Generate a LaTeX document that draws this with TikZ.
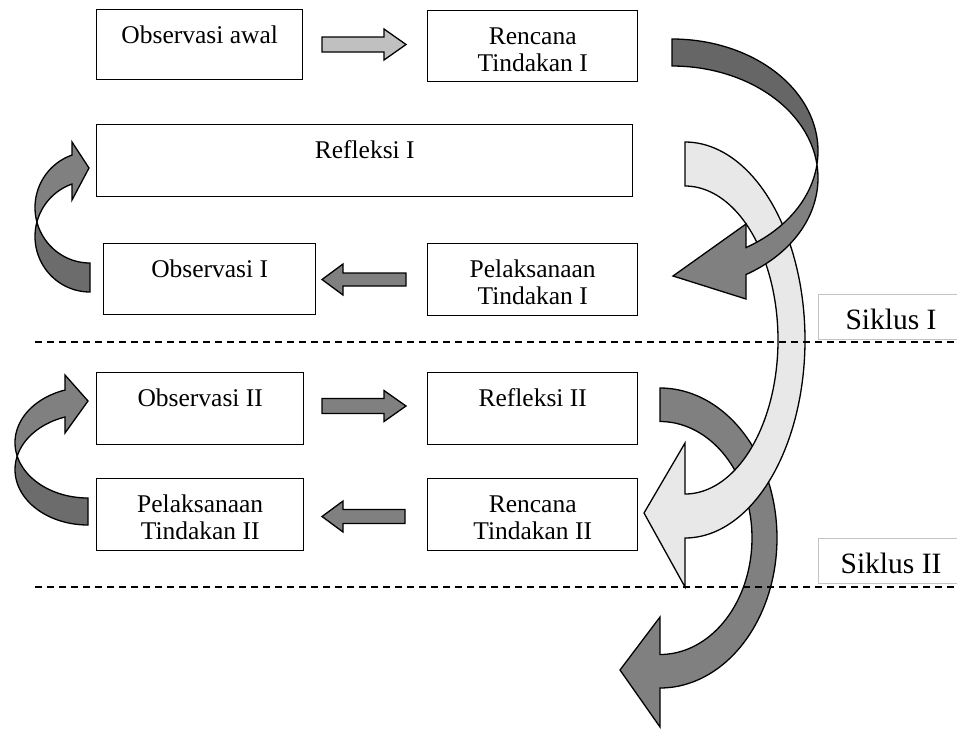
\documentclass[tikz,border=0pt]{standalone}
\usepackage{fontspec}
\setmainfont{Liberation Serif}
\definecolor{lightfill}{HTML}{C0C0C0}
\definecolor{midfill}{HTML}{808080}
\definecolor{darkfill}{HTML}{666666}
\definecolor{backfill}{HTML}{6C6C6C}
\definecolor{palefill}{HTML}{E8E8E8}
\definecolor{sikline}{HTML}{C4C4C4}
\begin{document}
\begin{tikzpicture}[x=1pt,y=-1pt,
  box/.style={draw=black, line width=1.4pt, inner sep=0pt, anchor=north west},
  txt/.style={anchor=north, inner sep=0pt, align=center, font=\fontsize{25.5}{27.5}\selectfont},
  sikbox/.style={draw=sikline, line width=1.4pt, inner sep=0pt, anchor=north west},
  siktxt/.style={anchor=base, inner sep=0pt, font=\fontsize{29.5}{31}\selectfont},
  dashline/.style={draw=black, dash pattern=on 7pt off 5pt, line width=1.4pt},
  arrline/.style={draw=black, line width=1.3pt, line join=miter},
]
\useasboundingbox (0,0) rectangle (957,729);

% ---------- boxes ----------
\node[box, minimum width=206pt, minimum height=70pt] (obsawal) at (96,9) {};
\node[box, minimum width=210pt, minimum height=71pt] (renc1) at (427,10) {};
\node[box, minimum width=536pt, minimum height=72pt] (refl1) at (96,124) {};
\node[box, minimum width=212pt, minimum height=71pt] (obs1) at (103,243) {};
\node[box, minimum width=210pt, minimum height=72pt] (pel1) at (427,243) {};
\node[box, minimum width=207pt, minimum height=72pt] (obs2) at (96,372) {};
\node[box, minimum width=210pt, minimum height=72pt] (refl2) at (427,372) {};
\node[box, minimum width=207pt, minimum height=72pt] (pel2) at (96,478) {};
\node[box, minimum width=210pt, minimum height=72pt] (renc2) at (427,478) {};

\node[txt] (obsawal-t) at ([yshift=-14.75pt]obsawal.north) {\strut Observasi awal};
\node[txt] (renc1-t) at ([yshift=-14.75pt]renc1.north) {\strut Rencana\\\strut Tindakan I};
\node[txt] (refl1-t) at ([yshift=-14.75pt]refl1.north) {\strut Refleksi I};
\node[txt] (obs1-t) at ([yshift=-14.75pt]obs1.north) {\strut Observasi I};
\node[txt] (pel1-t) at ([yshift=-14.75pt]pel1.north) {\strut Pelaksanaan\\\strut Tindakan I};
\node[txt] (obs2-t) at ([yshift=-14.75pt]obs2.north) {\strut Observasi II};
\node[txt] (refl2-t) at ([yshift=-14.75pt]refl2.north) {\strut Refleksi II};
\node[txt] (pel2-t) at ([yshift=-14.75pt]pel2.north) {\strut Pelaksanaan\\\strut Tindakan II};
\node[txt] (renc2-t) at ([yshift=-14.75pt]renc2.north) {\strut Rencana\\\strut Tindakan II};

% ---------- straight block arrows ----------
\filldraw[arrline, fill=lightfill] (322,37) -- (384,37) -- (384,29) -- (406,44.5) -- (384,60) -- (384,52) -- (322,52) -- cycle;
\filldraw[arrline, fill=midfill] (406,273) -- (343,273) -- (343,264) -- (322,279.5) -- (343,295) -- (343,286) -- (406,286) -- cycle;
\filldraw[arrline, fill=midfill] (322,398.5) -- (384,398.5) -- (384,390.5) -- (406,406) -- (384,421.5) -- (384,413.5) -- (322,413.5) -- cycle;
\filldraw[arrline, fill=midfill] (405,509.5) -- (343,509.5) -- (343,501) -- (322,516.5) -- (343,532) -- (343,523.5) -- (405,523.5) -- cycle;

% ---------- curved arrow: Refleksi II -> down ----------
\filldraw[arrline, fill=midfill]
  plot[domain=-90:90, samples=80, variable=\t] ({660+117*cos(\t)},{538+150*sin(\t)})
  -- (660,727) -- (620,670) -- (660,617)
  -- plot[domain=90:-90, samples=80, variable=\t] ({660+92*cos(\t)},{538+116.5*sin(\t)})
  -- cycle;

% ---------- curved arrow: Refleksi I -> Rencana II (pale) ----------
\filldraw[arrline, fill=palefill]
  plot[domain=-90:90, samples=90, variable=\t] ({685+120*cos(\t)},{340+198*sin(\t)})
  -- (685,587) -- (644,513) -- (685,443)
  -- plot[domain=90:-90, samples=90, variable=\t] ({685+93*cos(\t)},{340+154*sin(\t)})
  -- cycle;

% ---------- curved arrow: Rencana I -> Pelaksanaan I (twisted) ----------
\filldraw[arrline, fill=darkfill]
  plot[domain=-90:6.92, samples=60, variable=\t] ({672+146*cos(\t)},{151+112*sin(\t)})
  -- plot[domain=-6.92:-90, samples=60, variable=\t] ({672+146*cos(\t)},{178+112*sin(\t)})
  -- cycle;
\filldraw[arrline, fill=midfill]
  plot[domain=6.92:59.55, samples=50, variable=\t] ({672+146*cos(\t)},{151+112*sin(\t)})
  -- (746,224) -- (673,276) -- (746,299)
  -- plot[domain=59.55:-6.92, samples=50, variable=\t] ({672+146*cos(\t)},{178+112*sin(\t)})
  -- cycle;

% ---------- curved arrow: Observasi I -> Refleksi I ----------
\filldraw[arrline, fill=backfill]
  plot[domain=90:164.9, samples=40, variable=\t] ({90+55*cos(\t)},{207.5+55.5*sin(\t)})
  -- plot[domain=195.1:90, samples=40, variable=\t] ({90+55*cos(\t)},{236.5+55.5*sin(\t)})
  -- cycle;
\filldraw[arrline, fill=midfill]
  plot[domain=164.9:250.9, samples=40, variable=\t] ({90+55*cos(\t)},{207.5+55.5*sin(\t)})
  -- (72,142) -- (89,168) -- (72,200)
  -- plot[domain=250.9:195.1, samples=40, variable=\t] ({90+55*cos(\t)},{236.5+55.5*sin(\t)})
  -- cycle;

% ---------- curved arrow: Pelaksanaan II -> Observasi II ----------
\filldraw[arrline, fill=backfill]
  plot[domain=90:165.9, samples=40, variable=\t] ({88+73*cos(\t)},{442.6+55.4*sin(\t)})
  -- plot[domain=194.1:90, samples=40, variable=\t] ({88+73*cos(\t)},{469.6+55.4*sin(\t)})
  -- cycle;
\filldraw[arrline, fill=midfill]
  plot[domain=165.9:251.6, samples=40, variable=\t] ({88+73*cos(\t)},{442.6+55.4*sin(\t)})
  -- (65,375) -- (88,401) -- (65,433)
  -- plot[domain=251.6:194.1, samples=40, variable=\t] ({88+73*cos(\t)},{469.6+55.4*sin(\t)})
  -- cycle;

% ---------- cycle separators ----------
\coordinate (d1a) at (35,342);
\coordinate (d1b) at (957,342);
\coordinate (d2a) at (35,587);
\coordinate (d2b) at (957,587);
\draw[dashline] (d1a) -- (d1b);
\draw[dashline] (d2a) -- (d2b);

\node[sikbox, minimum width=150pt, minimum height=45pt] (sik1box) at (818,294) {};
\node[sikbox, minimum width=150pt, minimum height=45pt] (sik2box) at (818,538) {};
\node[siktxt] (sik1) at (891,329) {Siklus I};
\node[siktxt] (sik2) at (891,573) {Siklus II};
\end{tikzpicture}
\end{document}
